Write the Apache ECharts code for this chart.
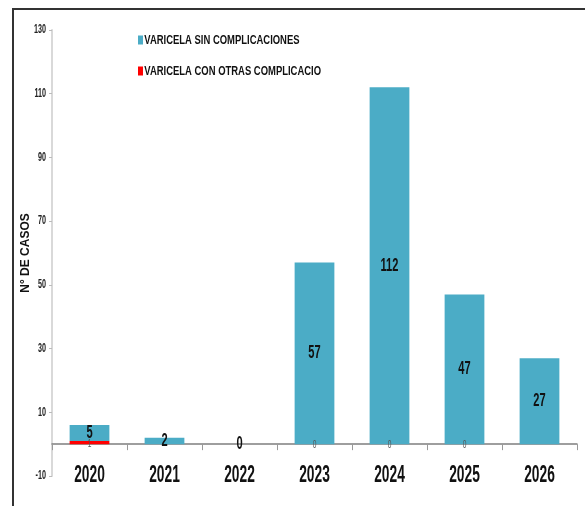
<!DOCTYPE html>
<html>
<head>
<meta charset="utf-8">
<script src="https://cdn.jsdelivr.net/npm/echarts@6/dist/echarts.min.js"></script>
<style>
  html, body { margin: 0; padding: 0; background: #fff; }
  #chart { width: 585px; height: 506px; }
</style>
</head>
<body>
<div id="chart"></div>
<script>
// Casos de varicela por año
const years = ['2020', '2021', '2022', '2023', '2024', '2025', '2026'];
const sinComplicaciones = [5, 2, 0, 57, 112, 47, 27];
const conOtrasComplicaciones = [1, null, null, 0, 0, 0, null];
const yTicks = { min: -10, max: 130, interval: 20 };
const axisTitle = 'N° DE CASOS';

const face = '"Liberation Sans", Arial, sans-serif';

const chart = echarts.init(document.getElementById('chart'));
chart.setOption({
  animation: false,
  graphic: [{
    type: 'rect',
    shape: { x: 13, y: 9, width: 600, height: 520 },
    style: { fill: 'none', stroke: '#333', lineWidth: 2 },
    silent: true
  }],
  legend: {
    orient: 'vertical',
    left: 133,
    top: 28,
    itemGap: 17,
    itemWidth: 5,
    itemHeight: 9,
    icon: 'rect',
    textStyle: { fontFamily: face, fontWeight: 'bold', fontSize: 13.5, color: '#111', padding: [0, 0, 0, -1] },
    data: ['VARICELA SIN COMPLICACIONES', 'VARICELA CON OTRAS COMPLICACIO']
  },
  grid: { left: 52, right: 8, top: 30, bottom: 30, outerBoundsMode: 'none' },
  xAxis: {
    type: 'category',
    data: years,
    axisLine: { onZero: true, lineStyle: { color: '#7f7f7f', width: 1.5 } },
    axisTick: { show: true, length: 6, lineStyle: { color: '#999' } },
    axisLabel: { margin: -12, fontFamily: face, fontWeight: 'bold', fontSize: 23, color: '#111' }
  },
  yAxis: {
    type: 'value',
    min: yTicks.min,
    max: yTicks.max,
    interval: yTicks.interval,
    name: axisTitle,
    nameLocation: 'middle',
    nameRotate: 90,
    nameGap: 20,
    nameMoveOverlap: false,
    nameTextStyle: { fontFamily: face, fontWeight: 'bold', fontSize: 12, color: '#111' },
    splitLine: { show: false },
    axisLine: { show: true, lineStyle: { color: '#d9d9d9', width: 2 } },
    axisTick: { show: true, length: 3, lineStyle: { color: '#bbb' } },
    axisLabel: { margin: 6, fontFamily: face, fontWeight: 'bold', fontSize: 12, color: '#222' }
  },
  series: [
    {
      name: 'VARICELA CON OTRAS COMPLICACIO',
      type: 'bar',
      stack: 'total',
      barWidth: '53%',
      itemStyle: { color: '#FF0000' },
      label: { show: true, position: 'inside', fontFamily: face, fontSize: 11, color: '#555', offset: [0, 1] },
      data: conOtrasComplicaciones
    },
    {
      name: 'VARICELA SIN COMPLICACIONES',
      type: 'bar',
      stack: 'total',
      barWidth: '53%',
      itemStyle: { color: '#4BACC6' },
      label: { show: true, position: 'inside', fontFamily: face, fontWeight: 'bold', fontSize: 18.5, color: '#111' },
      data: sinComplicaciones
    }
  ]
});

// Narrow, condensed lettering for the chart texts (the axis title keeps its normal width)
function condenseTexts() {
  const zr = chart.getZr();
  const done = new Set();
  zr.storage.getDisplayList(true).forEach(function (el) {
    const t = el.parent;
    if (!t || t.type !== 'text' || done.has(t)) return;
    done.add(t);
    const s = t.style && t.style.text;
    if (s == null) return;
    const str = String(s);
    if (str === axisTitle) return;
    t.scaleX = str.length > 8 ? 0.70 : 0.6;
    t.markRedraw();
  });
  zr.refreshImmediately();
}
condenseTexts();
</script>
</body>
</html>
